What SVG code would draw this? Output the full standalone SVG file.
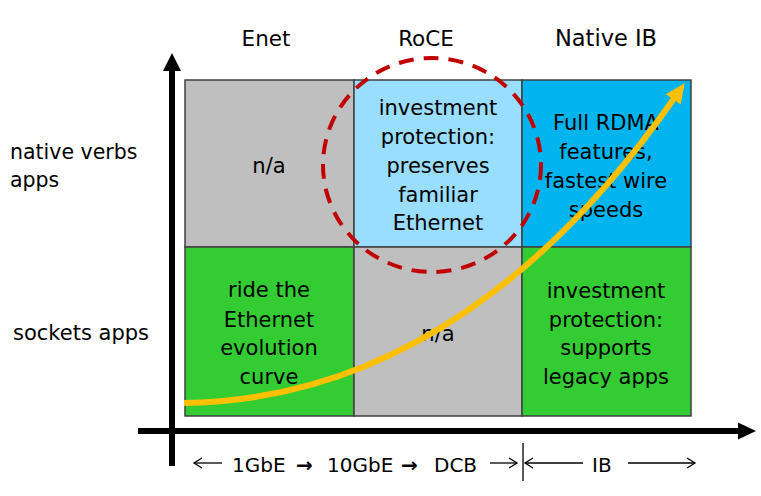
<svg xmlns="http://www.w3.org/2000/svg" width="761" height="496" viewBox="0 0 761 496">
<style>
text{font-family:"DejaVu Sans","Verdana",sans-serif;font-size:21px;fill:#000}
.c{text-anchor:middle}
.h{font-size:21.5px}
.x{font-size:20px}
.cell{stroke:#404040;stroke-width:1.5}
.gray{fill:#BFBFBF}.lb{fill:#99DDFF}.bb{fill:#00B4F0}.gr{fill:#33CC33}
.axis{stroke:#000;stroke-width:6;fill:none}
.thin{stroke:#000;stroke-width:1.3;fill:none}
</style>
<defs>
<marker id="yarrow" markerUnits="userSpaceOnUse" markerWidth="30" markerHeight="30" refX="0" refY="0" orient="auto" overflow="visible">
<path d="M-3,-9 L17,0 L-3,9 z" fill="#FFC000"/>
</marker>
</defs>
<rect width="761" height="496" fill="#fff"/>
<g id="headers">
<text class="c h" x="266" y="46">Enet</text>
<text class="c h" x="426" y="46">RoCE</text>
<text class="c h" x="606" y="46" style="font-size:22.5px">Native IB</text>
</g>
<g id="row-labels">
<text x="10" y="159" style="font-size:20.5px">native verbs</text>
<text x="10" y="187" style="font-size:20.5px">apps</text>
<text x="13" y="340">sockets apps</text>
</g>
<g id="cell-enet-verbs">
<rect class="cell gray" x="185" y="80" width="169" height="167"/>
<text class="c" x="269" y="173">n/a</text>
</g>
<g id="cell-roce-verbs">
<rect class="cell lb" x="354" y="80" width="168" height="167"/>
<text class="c" x="438" y="115">investment</text>
<text class="c" x="438" y="144">protection:</text>
<text class="c" x="438" y="173">preserves</text>
<text class="c" x="438" y="202">familiar</text>
<text class="c" x="438" y="230">Ethernet</text>
</g>
<g id="cell-ib-verbs">
<rect class="cell bb" x="522" y="80" width="169" height="167"/>
<text class="c" x="606" y="130">Full RDMA</text>
<text class="c" x="606" y="159">features,</text>
<text class="c" x="606" y="188">fastest wire</text>
<text class="c" x="606" y="217">speeds</text>
</g>
<g id="cell-enet-sockets">
<rect class="cell gr" x="185" y="247" width="169" height="169"/>
<text class="c" x="269" y="297">ride the</text>
<text class="c" x="269" y="327">Ethernet</text>
<text class="c" x="269" y="355">evolution</text>
<text class="c" x="269" y="384">curve</text>
</g>
<g id="cell-roce-sockets">
<rect class="cell gray" x="354" y="247" width="168" height="169"/>
<text class="c" x="438" y="341">n/a</text>
</g>
<g id="cell-ib-sockets">
<rect class="cell gr" x="522" y="247" width="169" height="169"/>
<text class="c" x="606" y="298">investment</text>
<text class="c" x="606" y="327">protection:</text>
<text class="c" x="606" y="355">supports</text>
<text class="c" x="606" y="384">legacy apps</text>
</g>
<g id="roce-circle">
<ellipse cx="432" cy="165" rx="109" ry="107" fill="none" stroke="#C00000" stroke-width="4" stroke-dasharray="15 10"/>
</g>
<g id="axes">
<line class="axis" x1="172" y1="466" x2="172" y2="68"/>
<polygon points="172,53 163,71 181,71" fill="#000"/>
<line class="axis" x1="138" y1="431" x2="740" y2="431"/>
<polygon points="756,431 738,422.5 738,439.5" fill="#000"/>
</g>
<g id="connectors">
<path d="M184,403 C400,400 560,262 675,97" fill="none" stroke="#FFC000" stroke-width="6" marker-end="url(#yarrow)"/>
</g>
<g id="x-labels">
<line class="thin" x1="194" y1="463" x2="222" y2="463"/>
<polyline class="thin" points="202,458 194,463 202,468"/>
<text class="x" x="232" y="472">1GbE</text>
<text class="x" x="296" y="472" font-weight="bold">→</text>
<text class="x" x="327" y="472">10GbE</text>
<text class="x" x="401" y="472" font-weight="bold">→</text>
<text class="x" x="434" y="472">DCB</text>
<line class="thin" x1="490" y1="463" x2="517" y2="463"/>
<polyline class="thin" points="509,458 517,463 509,468"/>
<line class="thin" x1="523" y1="443" x2="523" y2="481"/>
<line class="thin" x1="525" y1="463" x2="583" y2="463"/>
<polyline class="thin" points="533,458 525,463 533,468"/>
<text class="x" x="592" y="472">IB</text>
<line class="thin" x1="628" y1="463" x2="695" y2="463"/>
<polyline class="thin" points="687,458 695,463 687,468"/>
</g>
</svg>
